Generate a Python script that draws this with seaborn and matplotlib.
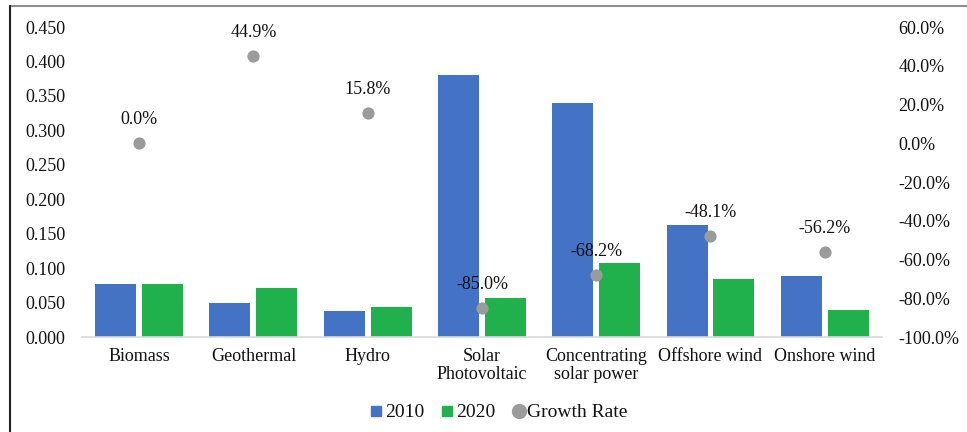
import numpy as np
import pandas as pd
import matplotlib
matplotlib.use("Agg")
import matplotlib.pyplot as plt
from matplotlib.lines import Line2D
from matplotlib.ticker import FuncFormatter
import seaborn as sns

categories = ["Biomass", "Geothermal", "Hydro", "Solar\nPhotovoltaic",
              "Concentrating\nsolar power", "Offshore wind", "Onshore wind"]
cost_2010 = [0.077, 0.049, 0.038, 0.381, 0.340, 0.162, 0.089]
cost_2020 = [0.077, 0.071, 0.044, 0.057, 0.108, 0.084, 0.039]
growth_pct = [0.0, 44.9, 15.8, -85.0, -68.2, -48.1, -56.2]
years = ["2010", "2020"]

sns.set_theme(style="white")
plt.rcParams["font.family"] = ["Liberation Serif", "DejaVu Serif"]
plt.rcParams["text.color"] = "#111111"
plt.rcParams["xtick.color"] = "#111111"
plt.rcParams["ytick.color"] = "#111111"

blue, green, grey = "#4472C4", "#21B14C", "#9B9B9B"

df = pd.DataFrame({
    "Technology": categories * 2,
    "Year": [years[0]] * len(categories) + [years[1]] * len(categories),
    "Cost": cost_2010 + cost_2020,
})
gdf = pd.DataFrame({"Technology": categories, "Growth": np.array(growth_pct) / 100})

fig = plt.figure(figsize=(9.67, 4.32), dpi=100)
ax = fig.add_axes([0.0848, 0.2199, 0.912 - 0.0848, 0.9375 - 0.2199])

sns.barplot(data=df, x="Technology", y="Cost", hue="Year", order=categories,
            palette=[blue, green], width=0.82, gap=0.125, ax=ax,
            saturation=1, legend=False, linewidth=0)
ax.set_ylim(0, 0.45)
ax.set_yticks(np.arange(0, 0.451, 0.05))
ax.yaxis.set_major_formatter(FuncFormatter(lambda v, p: f"{v:.3f}"))
ax.set_xlabel("")
ax.set_ylabel("")
for s in ["top", "right", "left"]:
    ax.spines[s].set_visible(False)
ax.spines["bottom"].set_color("#d9d9d9")
ax.spines["bottom"].set_linewidth(1.2)
ax.tick_params(axis="y", length=0, pad=12, labelsize=13)
ax.tick_params(axis="x", length=0, pad=8, labelsize=13)
for lbl in ax.get_xticklabels():
    lbl.set_linespacing(1.05)

ax2 = ax.twinx()
sns.stripplot(data=gdf, x="Technology", y="Growth", order=categories,
              color=grey, jitter=False, size=8.8, linewidth=0, ax=ax2)
ax2.set_ylim(-1.0, 0.6)
ax2.set_yticks(np.arange(-1.0, 0.61, 0.2))
ax2.yaxis.set_major_formatter(
    FuncFormatter(lambda v, p: f"{round(v * 100, 1) + 0.0:.1f}%"))
ax2.set_ylabel("")
ax2.set_xlabel("")
for s in ["top", "right", "left", "bottom"]:
    ax2.spines[s].set_visible(False)
ax2.tick_params(axis="y", length=0, pad=12, labelsize=13)
ax.set_xlim(-0.5, len(categories) - 0.5)

for i, g in enumerate(growth_pct):
    ax2.annotate(f"{g:.1f}%", (i, g / 100), xytext=(0, 17), textcoords="offset points",
                 ha="center", va="center", fontsize=13)

handles = [
    Line2D([], [], marker="s", linestyle="none", color=blue, markersize=7),
    Line2D([], [], marker="s", linestyle="none", color=green, markersize=7),
    Line2D([], [], marker="o", linestyle="none", color=grey, markersize=10),
]
fig.legend(handles, ["2010", "2020", "Growth Rate"], loc="center",
           bbox_to_anchor=(0.515, 0.045), ncol=3, frameon=False, fontsize=14,
           handletextpad=0.05, columnspacing=0.8, handlelength=0.8)

# frame lines along the top and left edges
fig.add_artist(Line2D([0.0103, 1.0], [0.986, 0.986], color="#8c8c8c", lw=1.5))
fig.add_artist(Line2D([0.0103, 0.0103], [0.0, 0.986], color="#222222", lw=1.5))

fig.savefig("out.png", dpi=100)
